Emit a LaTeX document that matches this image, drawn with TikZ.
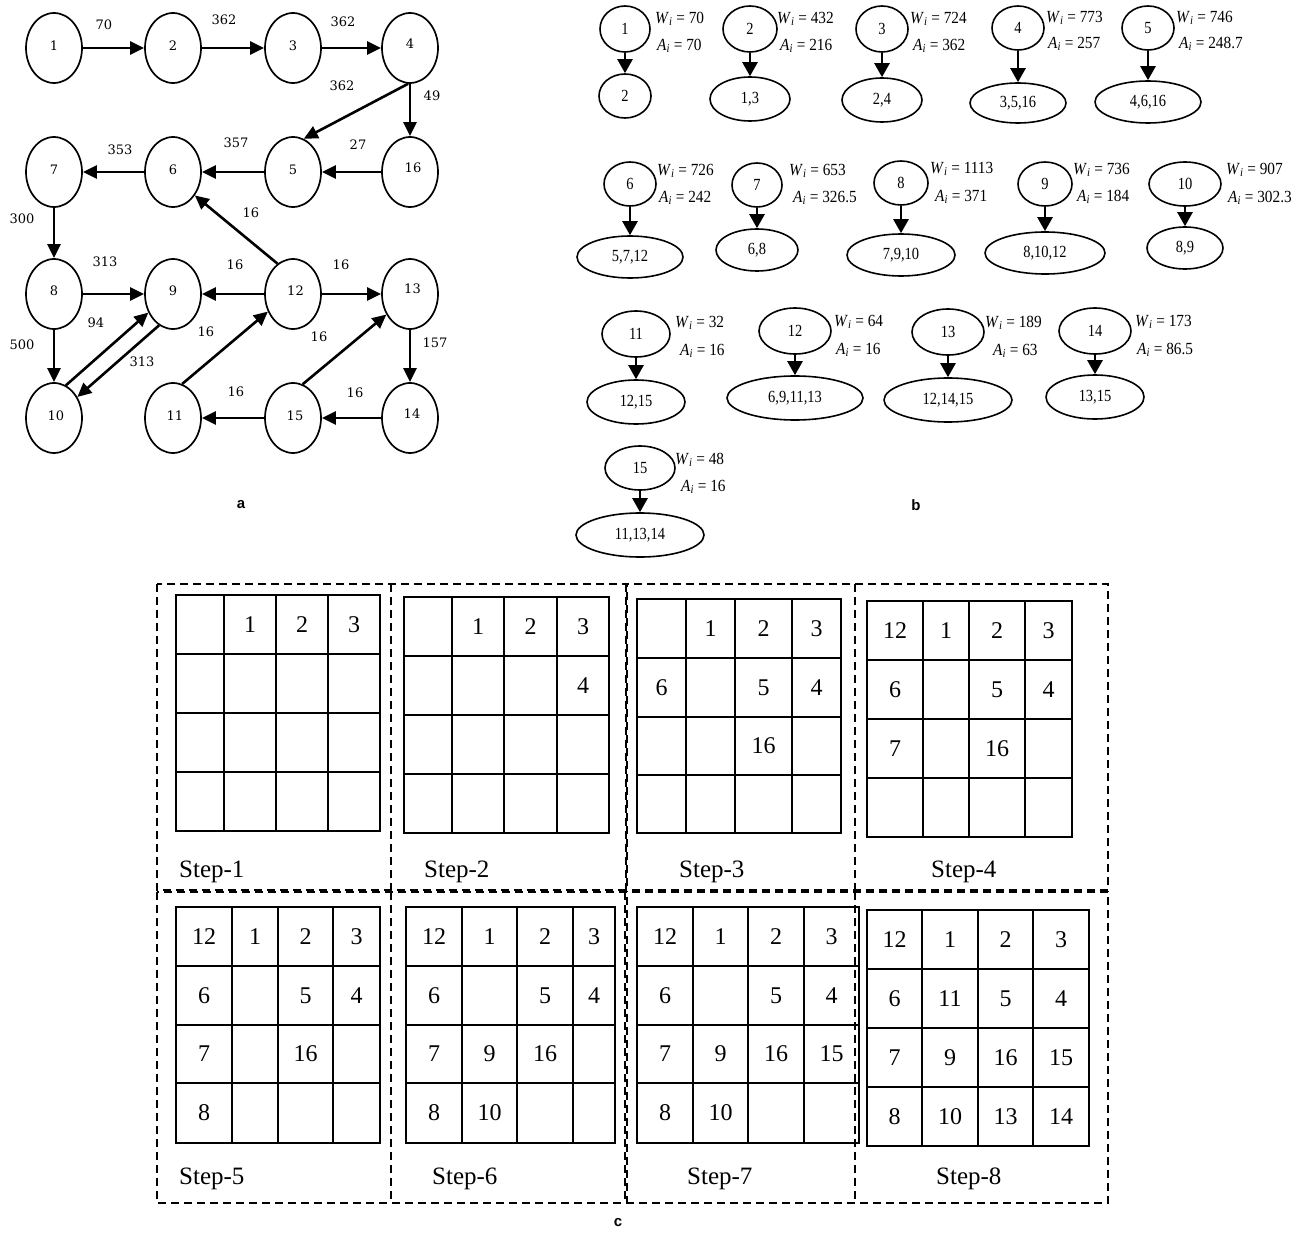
\documentclass[tikz,border=0pt]{standalone}
\usepackage{fontspec}
\newfontfamily\tnr{Liberation Serif}
\newfontfamily\lsans{Liberation Sans}
\newfontfamily\dvs{DejaVu Serif}
\usetikzlibrary{arrows.meta,shapes.geometric}

\tikzset{
  anode/.style={ellipse, draw, line width=1.7pt, minimum width=56pt, minimum height=70pt, inner sep=0pt, font=\dvs\fontsize{13}{15}\selectfont},
  arr/.style={line width=2.6pt, -{Triangle[length=14pt,width=13pt]}},
  elab/.style={inner sep=0pt, font=\dvs\fontsize{13}{15}\selectfont},
  bnode/.style={ellipse, draw, line width=1.6pt, inner sep=0pt, font=\tnr\fontsize{17}{19}\selectfont},
  barr/.style={line width=2.4pt, -{Triangle[length=14pt,width=15pt]}},
  wlab/.style={anchor=west, inner sep=0pt, font=\tnr\fontsize{17}{19}\selectfont},
  gridline/.style={line width=1.6pt},
  celltext/.style={inner sep=0pt, font=\tnr\fontsize{24}{28}\selectfont},
  steplab/.style={anchor=base west, inner sep=0pt, font=\tnr\fontsize{25}{28}\selectfont},
  framebox/.style={line width=1.4pt, dash pattern=on 8pt off 5pt},
  partlab/.style={inner sep=0pt, font=\lsans\bfseries\fontsize{15}{17}\selectfont}
}

\newcommand\btree[9]{%
  \node[bnode, minimum width=#4pt, minimum height=#5pt] (b#1) at (#2,#3) {\scalebox{0.85}[1]{#1}};
  \node[bnode, minimum width=#7pt, minimum height=#8pt] (c#1) at (#2,#6) {\scalebox{0.85}[1]{#9}};
  \draw[barr] (b#1) -- (c#1);
}
\newcommand\bstats[7]{%
  \node[wlab] (w#1) at (#4,#5) {\scalebox{0.9}[1]{\textit{W}\textsubscript{\textit{i}} = #2}};
  \node[wlab] (v#1) at (#6,#7) {\scalebox{0.9}[1]{\textit{A}\textsubscript{\textit{i}} = #3}};
}
\newcommand\stepgrid[4]{%
  \pgfmathsetmacro\sgL{{#2}[0]}%
  \pgfmathsetmacro\sgR{{#2}[4]}%
  \pgfmathsetmacro\sgT{{#3}[0]}%
  \pgfmathsetmacro\sgB{{#3}[4]}%
  \draw[gridline] (\sgL,\sgT) rectangle (\sgR,\sgB);
  \foreach \k in {1,2,3}{%
    \pgfmathsetmacro\sgX{{#2}[\k]}%
    \pgfmathsetmacro\sgY{{#3}[\k]}%
    \draw[gridline] (\sgX,\sgT) -- (\sgX,\sgB);
    \draw[gridline] (\sgL,\sgY) -- (\sgR,\sgY);
  }%
  \foreach \r/\c/\t in {#4}{%
    \pgfmathtruncatemacro\sgcn{\c+1}%
    \pgfmathtruncatemacro\sgrn{\r+1}%
    \pgfmathsetmacro\sgxa{{#2}[\c]}%
    \pgfmathsetmacro\sgxb{{#2}[\sgcn]}%
    \pgfmathsetmacro\sgya{{#3}[\r]}%
    \pgfmathsetmacro\sgyb{{#3}[\sgrn]}%
    \pgfmathsetmacro\sgcx{(\sgxa+\sgxb)/2}%
    \pgfmathsetmacro\sgcy{(\sgya+\sgyb)/2}%
    \node[celltext] (#1-\r-\c) at (\sgcx,\sgcy) {\t};
  }%
}

\begin{document}
\begin{tikzpicture}[x=1pt,y=-1pt]
\useasboundingbox[fill=white] (0,0) rectangle (1314,1233);

% ---------------- part a ----------------
\node[anode] (a1) at (54,48) {\raisebox{5pt}{1}};
\node[anode] (a2) at (173,48) {\raisebox{5pt}{2}};
\node[anode] (a3) at (293,48) {\raisebox{5pt}{3}};
\node[anode] (a4) at (410,48) {\raisebox{8pt}{4}};
\node[anode] (a7) at (54,172) {\raisebox{4pt}{7}};
\node[anode] (a6) at (173,172) {\raisebox{4pt}{6}};
\node[anode] (a5) at (293,172) {\raisebox{4pt}{5}};
\node[anode] (a16) at (410,172) {\raisebox{9pt}{\hspace{6pt}16}};
\node[anode] (a8) at (54,294) {\raisebox{6pt}{8}};
\node[anode] (a9) at (173,294) {\raisebox{7pt}{9}};
\node[anode] (a12) at (293,294) {\raisebox{6pt}{\hspace{5pt}12}};
\node[anode] (a13) at (410,294) {\raisebox{10pt}{\hspace{5pt}13}};
\node[anode] (a10) at (54,418) {\raisebox{5pt}{\hspace{4pt}10}};
\node[anode] (a11) at (173,418) {\raisebox{5pt}{\hspace{4pt}11}};
\node[anode] (a15) at (293,418) {\raisebox{5pt}{\hspace{4pt}15}};
\node[anode] (a14) at (410,418) {\raisebox{8pt}{\hspace{4pt}14}};

\draw[arr] (a1) -- (a2);
\draw[arr] (a2) -- (a3);
\draw[arr] (a3) -- (a4);
\draw[arr] (a4.267) -- (a5.72);
\draw[arr] (a4) -- (a16);
\draw[arr] (a16) -- (a5);
\draw[arr] (a5) -- (a6);
\draw[arr] (a6) -- (a7);
\draw[arr] (a12.117) -- (a6.313);
\draw[arr] (a7) -- (a8);
\draw[arr] (a8) -- (a9);
\draw[arr] (a12) -- (a9);
\draw[arr] (a12) -- (a13);
\draw[arr] (a8) -- (a10);
\draw[arr] (a10.70) -- (a9.217);
\draw[arr] (a9.246) -- (a10.42);
\draw[arr] (a11.75) -- (a12.215);
\draw[arr] (a15.74) -- (a13.221);
\draw[arr] (a13) -- (a14);
\draw[arr] (a14) -- (a15);
\draw[arr] (a15) -- (a11);

\node[elab] (l1) at (104,25) {70};
\node[elab] (l2) at (224,20) {362};
\node[elab] (l3) at (343,22) {362};
\node[elab] (l4) at (342,86) {362};
\node[elab] (l5) at (432,96) {49};
\node[elab] (l6) at (236,143) {357};
\node[elab] (l7) at (120,150) {353};
\node[elab] (l8) at (358,145) {27};
\node[elab] (l9) at (251,213) {16};
\node[elab] (l10) at (22,219) {300};
\node[elab] (l11) at (105,262) {313};
\node[elab] (l12) at (235,265) {16};
\node[elab] (l13) at (341,265) {16};
\node[elab] (l14) at (96,323) {94};
\node[elab] (l15) at (22,345) {500};
\node[elab] (l16) at (206,332) {16};
\node[elab] (l17) at (142,362) {313};
\node[elab] (l18) at (319,337) {16};
\node[elab] (l19) at (435,343) {157};
\node[elab] (l20) at (236,392) {16};
\node[elab] (l21) at (355,393) {16};
\node[partlab] (pa) at (241,505) {a};

% ---------------- part b ----------------
\btree{1}{625}{29}{50}{46}{96}{52}{44}{2}
\btree{2}{750}{29}{54}{46}{99}{80}{44}{1,3}
\btree{3}{882}{29}{52}{46}{100}{80}{44}{2,4}
\btree{4}{1018}{28}{52}{44}{103}{96}{40}{3,5,16}
\btree{5}{1148}{28}{52}{44}{102}{106}{42}{4,6,16}
\bstats{1}{70}{70}{655}{19}{657}{46}
\bstats{2}{432}{216}{777}{19}{780}{46}
\bstats{3}{724}{362}{910}{19}{913}{46}
\bstats{4}{773}{257}{1046}{18}{1048}{44}
\bstats{5}{746}{248.7}{1176}{18}{1179}{44}

\btree{6}{630}{184}{52}{44}{257}{106}{42}{5,7,12}
\btree{7}{757}{185}{50}{44}{250}{82}{42}{6,8}
\btree{8}{901}{183}{54}{44}{255}{108}{42}{7,9,10}
\btree{9}{1045}{184}{54}{44}{253}{120}{42}{8,10,12}
\btree{10}{1185}{184}{72}{44}{248}{76}{42}{8,9}
\bstats{6}{726}{242}{657}{171}{659}{198}
\bstats{7}{653}{326.5}{789}{171}{793}{198}
\bstats{8}{1113}{371}{930}{169}{935}{197}
\bstats{9}{736}{184}{1073}{170}{1077}{197}
\bstats{10}{907}{302.3}{1226}{170}{1228}{198}

\btree{11}{636}{334}{68}{46}{402}{98}{44}{12,15}
\btree{12}{795}{331}{72}{46}{398}{136}{44}{6,9,11,13}
\btree{13}{948}{332}{72}{46}{400}{128}{44}{12,14,15}
\btree{14}{1095}{331}{72}{46}{397}{98}{44}{13,15}
\btree{15}{640}{468}{70}{44}{535}{128}{44}{11,13,14}
\bstats{11}{32}{16}{675}{323}{680}{351}
\bstats{12}{64}{16}{834}{322}{836}{350}
\bstats{13}{189}{63}{985}{323}{993}{351}
\bstats{14}{173}{86.5}{1135}{322}{1137}{350}
\bstats{15}{48}{16}{675}{460}{681}{487}
\node[partlab] (pb) at (916,505) {b};

% ---------------- part c ----------------
\draw[framebox] (157,584) rectangle (627,890);
\draw[framebox] (391,584) -- (391,890);
\draw[framebox] (626,584) rectangle (1108,890);
\draw[framebox] (855,584) -- (855,890);
\draw[framebox] (157,892) rectangle (627,1203);
\draw[framebox] (391,892) -- (391,1203);
\draw[framebox] (625,892) rectangle (1108,1203);
\draw[framebox] (855,892) -- (855,1203);

\stepgrid{g1}{176,224,276,328,380}{595,654,713,772,831}{0/1/1,0/2/2,0/3/3}
\stepgrid{g2}{404,452,504,557,609}{597,656,715,774,833}{0/1/1,0/2/2,0/3/3,1/3/4}
\stepgrid{g3}{637,686,735,792,841}{599,658,717,775,833}{0/1/1,0/2/2,0/3/3,1/0/6,1/2/5,1/3/4,2/2/16}
\stepgrid{g4}{867,923,969,1025,1072}{601,660,719,778,837}{0/0/12,0/1/1,0/2/2,0/3/3,1/0/6,1/2/5,1/3/4,2/0/7,2/2/16}
\stepgrid{g5}{176,232,278,333,380}{907,966,1025,1083,1143}{0/0/12,0/1/1,0/2/2,0/3/3,1/0/6,1/2/5,1/3/4,2/0/7,2/2/16,3/0/8}
\stepgrid{g6}{406,462,517,573,615}{907,966,1025,1083,1143}{0/0/12,0/1/1,0/2/2,0/3/3,1/0/6,1/2/5,1/3/4,2/0/7,2/1/9,2/2/16,3/0/8,3/1/10}
\stepgrid{g7}{637,693,748,804,859}{907,966,1025,1083,1143}{0/0/12,0/1/1,0/2/2,0/3/3,1/0/6,1/2/5,1/3/4,2/0/7,2/1/9,2/2/16,2/3/15,3/0/8,3/1/10}
\stepgrid{g8}{867,922,978,1033,1089}{910,969,1028,1087,1146}{0/0/12,0/1/1,0/2/2,0/3/3,1/0/6,1/1/11,1/2/5,1/3/4,2/0/7,2/1/9,2/2/16,2/3/15,3/0/8,3/1/10,3/2/13,3/3/14}

\node[steplab] (s1) at (179,877) {Step-1};
\node[steplab] (s2) at (424,877) {Step-2};
\node[steplab] (s3) at (679,877) {Step-3};
\node[steplab] (s4) at (931,877) {Step-4};
\node[steplab] (s5) at (179,1184) {Step-5};
\node[steplab] (s6) at (432,1184) {Step-6};
\node[steplab] (s7) at (687,1184) {Step-7};
\node[steplab] (s8) at (936,1184) {Step-8};
\node[partlab] (pc) at (618,1223) {c};
\end{tikzpicture}
\end{document}
